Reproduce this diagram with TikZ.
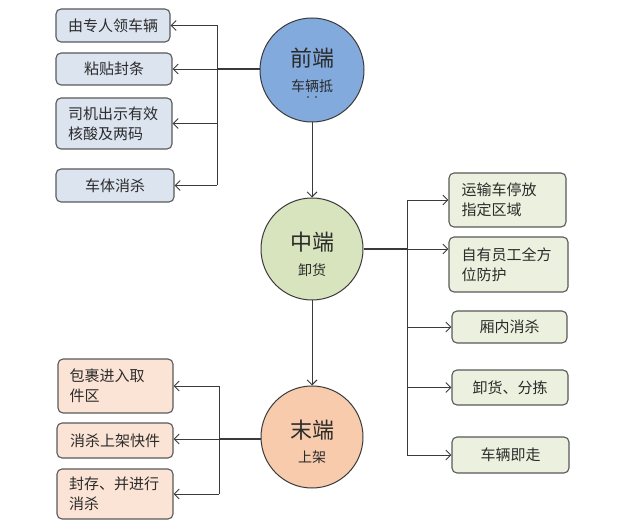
\documentclass[tikz,border=0pt]{standalone}
\usepackage{fontspec}
\setmainfont{Noto Sans CJK SC}
\usetikzlibrary{arrows.meta}
\definecolor{bluec}{HTML}{82AADD}
\definecolor{blueb}{HTML}{DCE4F0}
\definecolor{greenc}{HTML}{D7E4BD}
\definecolor{greenb}{HTML}{EBF1DE}
\definecolor{orangec}{HTML}{F8CBAD}
\definecolor{orangeb}{HTML}{FBE4D6}
\definecolor{edge}{HTML}{595959}
\definecolor{txt}{HTML}{2B2B2B}
\definecolor{wire}{HTML}{3A3A3A}
\begin{document}
\begin{tikzpicture}[x=1pt,y=-1pt,
  box/.style={draw=edge, line width=1.1pt, rounded corners=5pt, inner sep=0pt,
    text=txt, font=\fontsize{15}{20}\selectfont},
  onebox/.style={box, align=center},
  twobox/.style={box, align=left},
  circ/.style={circle, draw=wire, line width=1pt, inner sep=0pt},
  title/.style={text=txt, inner sep=0pt, font=\fontsize{22}{26}\selectfont},
  subtitle/.style={text=txt, inner sep=0pt, font=\fontsize{14}{16}\selectfont},
  arr/.style={draw=wire, line width=0.9pt, -{Straight Barb[length=5pt,width=10pt]}},
  wire/.style={draw=wire, line width=0.9pt},
  thickwire/.style={draw=wire, line width=1.5pt},
]
\useasboundingbox (0,0) rectangle (640,521);

% circles
\node[circ, fill=bluec, minimum size=104pt] (c1) at (312,70) {};
\node[title] (c1t) at (312,58) {前端};
\node[subtitle] (c1s) at (312,86) {车辆抵};
\node[text=txt, inner sep=0pt, font=\fontsize{8}{8}\selectfont] (c1d) at (312,99) {··};
\node[circ, fill=greenc, minimum size=102pt] (c2) at (312,249) {};
\node[title] (c2t) at (312,242) {中端};
\node[subtitle] (c2s) at (312,270) {卸货};
\node[circ, fill=orangec, minimum size=102pt] (c3) at (312,437) {};
\node[title] (c3t) at (312,430) {末端};
\node[subtitle] (c3s) at (312,457) {上架};

% left top boxes
\node[onebox, fill=blueb, minimum width=114pt, minimum height=33pt] (L1) at (113,25.5) {由专人领车辆};
\node[onebox, fill=blueb, minimum width=116pt, minimum height=32pt] (L2) at (114,69) {粘贴封条};
\node[twobox, fill=blueb, minimum width=116pt, minimum height=51pt, text width=92pt] (L3) at (114,123.5) {司机出示有效\\核酸及两码};
\node[onebox, fill=blueb, minimum width=118pt, minimum height=33pt] (L4) at (115,185.5) {车体消杀};

% right boxes
\node[twobox, fill=greenb, minimum width=117pt, minimum height=54pt, text width=92pt] (R1) at (507.5,200) {运输车停放\\指定区域};
\node[twobox, fill=greenb, minimum width=119pt, minimum height=55pt, text width=94pt] (R2) at (508.5,264.5) {自有员工全方\\位防护};
\node[onebox, fill=greenb, minimum width=115pt, minimum height=32pt] (R3) at (509.5,327) {厢内消杀};
\node[onebox, fill=greenb, minimum width=116pt, minimum height=35pt] (R4) at (510,387.5) {卸货、分拣};
\node[onebox, fill=greenb, minimum width=117pt, minimum height=36pt] (R5) at (510.5,455) {车辆即走};

% bottom left boxes
\node[twobox, fill=orangeb, minimum width=115pt, minimum height=54pt, text width=92pt] (B1) at (115.5,386) {包裹进入取\\件区};
\node[onebox, fill=orangeb, minimum width=116pt, minimum height=35pt] (B2) at (115,440.5) {消杀上架快件};
\node[twobox, fill=orangeb, minimum width=116pt, minimum height=50pt, text width=92pt] (B3) at (115,494) {封存、并进行\\消杀};

% main flow
\draw[arr] (c1) -- (c2);
\draw[arr] (c2) -- (c3);

% front fan-out
\coordinate (t1) at (217,69);
\draw[thickwire] (c1.west |- t1) -- (t1);
\draw[arr] (t1) -- (L2.east);
\draw[wire] (t1 |- L1.east) -- (t1 |- L4.east);
\draw[arr] (t1 |- L1.east) -- (L1.east);
\draw[arr] (t1 |- L3.east) -- (L3.east);
\draw[arr] (t1 |- L4.east) -- (L4.east);

% middle fan-out
\coordinate (t2) at (407,249);
\draw[thickwire] (c2.east) -- (t2);
\draw[arr] (t2) -- (R2.west |- t2);
\draw[wire] (t2 |- R1.west) -- (t2 |- R5.west);
\draw[arr] (t2 |- R1.west) -- (R1.west);
\draw[arr] (t2 |- R3.west) -- (R3.west);
\draw[arr] (t2 |- R4.west) -- (R4.west);
\draw[arr] (t2 |- R5.west) -- (R5.west);

% end fan-out
\coordinate (t3) at (219,439);
\draw[thickwire] (c3.west |- t3) -- (t3);
\draw[arr] (t3) -- (B2.east |- t3);
\draw[wire] (t3 |- B1.east) -- (t3 |- B3.east);
\draw[arr] (t3 |- B1.east) -- (B1.east);
\draw[arr] (t3 |- B3.east) -- (B3.east);
\end{tikzpicture}
\end{document}
